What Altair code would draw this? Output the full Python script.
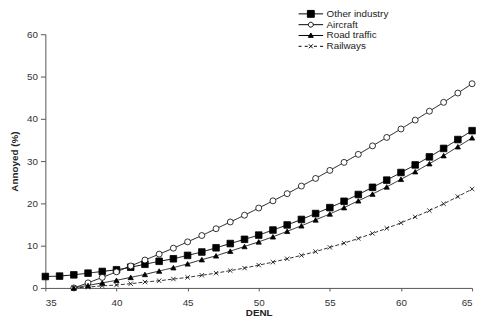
import altair as alt
import pandas as pd

series_names = ["Other industry", "Aircraft", "Road traffic", "Railways"]

denl_industry = list(range(35, 66))
industry = [2.7, 2.8, 3.1, 3.5, 3.9, 4.3, 4.9, 5.6, 6.3, 6.9, 7.7, 8.5, 9.5, 10.5, 11.5, 12.5,
            13.7, 14.9, 16.2, 17.6, 19.0, 20.5, 22.1, 23.8, 25.5, 27.3, 29.1, 31.0, 33.0, 35.1, 37.2]

denl_other = list(range(37, 66))
aircraft = [0.0, 1.2, 2.5, 3.8, 5.2, 6.6, 8.0, 9.4, 10.9, 12.4, 14.0, 15.6, 17.2, 18.9, 20.6,
            22.3, 24.1, 25.9, 27.8, 29.7, 31.6, 33.6, 35.6, 37.6, 39.7, 41.8, 43.9, 46.1, 48.3]
road = [0.0, 0.6, 1.2, 1.8, 2.5, 3.2, 4.0, 4.8, 5.7, 6.7, 7.6, 8.7, 9.8, 10.9, 12.1,
        13.4, 14.7, 16.1, 17.5, 19.0, 20.6, 22.2, 23.9, 25.7, 27.5, 29.4, 31.3, 33.4, 35.5]
rail = [0.0, 0.2, 0.5, 0.7, 1.0, 1.4, 1.7, 2.1, 2.5, 3.0, 3.5, 4.1, 4.7, 5.4, 6.1,
        6.9, 7.7, 8.6, 9.6, 10.6, 11.7, 12.9, 14.1, 15.4, 16.8, 18.3, 19.9, 21.6, 23.4]

rows = []
for x, v in zip(denl_industry, industry):
    rows.append({"DENL": x, "Annoyed": v, "series": "Other industry"})
for name, vals in [("Aircraft", aircraft), ("Road traffic", road), ("Railways", rail)]:
    for x, v in zip(denl_other, vals):
        rows.append({"DENL": x, "Annoyed": v, "series": name})
df = pd.DataFrame(rows)

xenc = alt.X("DENL:Q", scale=alt.Scale(domain=[35, 65], nice=False, zero=False),
             axis=alt.Axis(values=[35, 40, 45, 50, 55, 60, 65], title="DENL", grid=False,
                           tickSize=3, labelPadding=7, titlePadding=0))
yenc = alt.Y("Annoyed:Q", scale=alt.Scale(domain=[0, 60], nice=False),
             axis=alt.Axis(values=[0, 10, 20, 30, 40, 50, 60], title="Annoyed (%)", grid=False,
                           tickSize=5, labelPadding=3, titleFontWeight="bold", titlePadding=7))

lines = alt.Chart(df).mark_line(color="black").encode(
    x=xenc, y=yenc,
    detail="series:N",
    strokeDash=alt.StrokeDash("series:N", scale=alt.Scale(domain=series_names,
                              range=[[1, 0], [1, 0], [1, 0], [4, 2]]), legend=None),
    strokeWidth=alt.StrokeWidth("series:N", scale=alt.Scale(domain=series_names,
                                range=[1.0, 0.8, 1.2, 0.9]), legend=None),
)

marker_shapes = [
    "square",
    "circle",
    "triangle-up",
    "M-1,-1L1,1M1,-1L-1,1",
]
points = alt.Chart(df).mark_point(stroke="black", strokeWidth=0.8, opacity=1).encode(
    x="DENL:Q", y="Annoyed:Q",
    shape=alt.Shape("series:N", scale=alt.Scale(domain=series_names, range=marker_shapes), legend=None),
    fill=alt.Fill("series:N", scale=alt.Scale(domain=series_names,
                  range=["black", "white", "black", "transparent"]), legend=None),
    size=alt.Size("series:N", scale=alt.Scale(domain=series_names, range=[45, 20, 12, 14]), legend=None),
)

legend_shapes = [
    "M-1,0H1M-0.28,-0.28H0.28V0.28H-0.28Z",
    "M-1,0H-0.2M0.2,0H1M-0.2,0A0.2,0.2 0 1 0 0.2,0A0.2,0.2 0 1 0 -0.2,0Z",
    "M-1,0H1M0,-0.2L0.2,0.15H-0.2Z",
    "M-1,0H-0.75M-0.5,0H-0.25M0.25,0H0.5M0.75,0H1M-0.16,-0.16L0.16,0.16M0.16,-0.16L-0.16,0.16",
]
legend_layer = alt.Chart(df).transform_filter("false").mark_point(opacity=1).encode(
    x="DENL:Q", y="Annoyed:Q",
    shape=alt.Shape("series:N", scale=alt.Scale(domain=series_names, range=legend_shapes),
                    legend=alt.Legend(title=None, orient="none", legendX=257, legendY=-26,
                                      symbolSize=625, symbolStrokeWidth=1, symbolStrokeColor="black",
                                      symbolOpacity=1,
                                      labelFontSize=10, labelFont="Liberation Sans", labelColor="#222",
                                      labelOffset=3, rowPadding=0, clipHeight=10.5)),
    fill=alt.Fill("series:N", scale=alt.Scale(domain=series_names,
                  range=["black", "white", "black", "transparent"])),
    stroke=alt.Stroke("series:N", scale=alt.Scale(domain=series_names,
                      range=["black", "black", "black", "black"])),
)

chart = alt.layer(lines, points, legend_layer).resolve_scale(
    shape="independent", fill="independent", stroke="independent"
).properties(
    width=434, height=258,
    autosize=alt.AutoSizeParams(type="none"),
    padding={"left": 38, "top": 24, "right": 5, "bottom": 37},
).configure_view(stroke=None).configure_axis(
    domainColor="#555", tickColor="#555", labelColor="#333", titleColor="#222",
    labelFont="Liberation Sans", titleFont="Liberation Sans", labelFontSize=10, titleFontSize=10,
    labelFontWeight="normal",
)

chart.save("out.html", embed_options={"renderer": "svg", "actions": False})
